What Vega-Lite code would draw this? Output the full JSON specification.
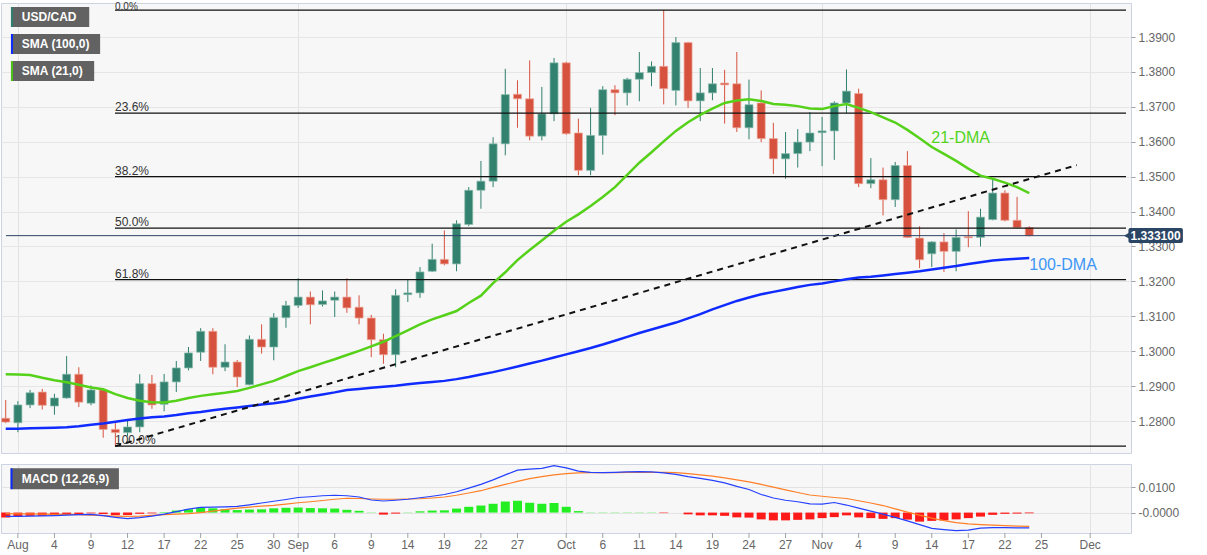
{
  "$schema": "https://vega.github.io/schema/vega-lite/v6.json",
  "padding": {"left": 0, "top": 1, "right": 0, "bottom": 0},
  "background": "white",
  "spacing": 9,
  "config": {
    "font": "Liberation Sans",
    "view": {"fill": "#f7f7f7", "stroke": "#ccd3e3", "strokeWidth": 1},
    "axis": {"labelFont": "Liberation Sans", "labelFontSize": 12, "labelColor": "#666666", "tickColor": "#a0a0a0", "gridColor": "#e6e6e6", "domain": false},
    "axisX": {"labelOverlap": false, "labelSeparation": 0, "labelFlush": false}
  },
  "datasets": {
    "one": [{}],
    "d": [
      {"i": -1, "o": 1.2808, "h": 1.2860, "l": 1.2794, "c": 1.2797, "s21": 1.2934, "s100": 1.2778, "m": -0.0015, "s": -0.0004, "hh": -0.0020},
      {"i": 0, "o": 1.2795, "h": 1.2857, "l": 1.2768, "c": 1.2846, "s21": 1.2933, "s100": 1.2778, "m": -0.0015, "s": -0.0005, "hh": -0.0017},
      {"i": 1, "o": 1.2846, "h": 1.2889, "l": 1.2837, "c": 1.2881, "s21": 1.2932, "s100": 1.2779, "m": -0.0014, "s": -0.0005, "hh": -0.0013},
      {"i": 2, "o": 1.2883, "h": 1.2892, "l": 1.2833, "c": 1.2845, "s21": 1.2924, "s100": 1.2780, "m": -0.0013, "s": -0.0006, "hh": -0.0013},
      {"i": 3, "o": 1.2843, "h": 1.2878, "l": 1.2818, "c": 1.2866, "s21": 1.2917, "s100": 1.2781, "m": -0.0012, "s": -0.0007, "hh": -0.0010},
      {"i": 4, "o": 1.2866, "h": 1.2986, "l": 1.2864, "c": 1.2934, "s21": 1.2911, "s100": 1.2782, "m": -0.0010, "s": -0.0007, "hh": -0.0006},
      {"i": 5, "o": 1.2934, "h": 1.2954, "l": 1.2840, "c": 1.2854, "s21": 1.2904, "s100": 1.2785, "m": -0.0008, "s": -0.0008, "hh": -0.0006},
      {"i": 6, "o": 1.2851, "h": 1.2902, "l": 1.2845, "c": 1.2889, "s21": 1.2896, "s100": 1.2789, "m": -0.0007, "s": -0.0010, "hh": -0.0003},
      {"i": 7, "o": 1.2889, "h": 1.2892, "l": 1.2752, "c": 1.2776, "s21": 1.2891, "s100": 1.2793, "m": -0.0012, "s": -0.0012, "hh": -0.0006},
      {"i": 8, "o": 1.2776, "h": 1.2794, "l": 1.2728, "c": 1.2767, "s21": 1.2877, "s100": 1.2798, "m": -0.0019, "s": -0.0014, "hh": -0.0010},
      {"i": 9, "o": 1.2767, "h": 1.2805, "l": 1.2756, "c": 1.2783, "s21": 1.2866, "s100": 1.2803, "m": -0.0024, "s": -0.0015, "hh": -0.0010},
      {"i": 10, "o": 1.2783, "h": 1.2934, "l": 1.2768, "c": 1.2907, "s21": 1.2858, "s100": 1.2807, "m": -0.0020, "s": -0.0014, "hh": -0.0005},
      {"i": 11, "o": 1.2907, "h": 1.2932, "l": 1.2835, "c": 1.2846, "s21": 1.2854, "s100": 1.2811, "m": -0.0014, "s": -0.0011, "hh": -0.0003},
      {"i": 12, "o": 1.2848, "h": 1.2935, "l": 1.2828, "c": 1.2912, "s21": 1.2853, "s100": 1.2813, "m": -0.0006, "s": -0.0008, "hh": 0.0002},
      {"i": 13, "o": 1.2912, "h": 1.2972, "l": 1.2883, "c": 1.2952, "s21": 1.2858, "s100": 1.2817, "m": 0.0004, "s": -0.0006, "hh": 0.0008},
      {"i": 14, "o": 1.2952, "h": 1.3012, "l": 1.2945, "c": 1.2995, "s21": 1.2866, "s100": 1.2822, "m": 0.0014, "s": -0.0004, "hh": 0.0013},
      {"i": 15, "o": 1.2997, "h": 1.3066, "l": 1.2972, "c": 1.3057, "s21": 1.2872, "s100": 1.2826, "m": 0.0021, "s": 0.0000, "hh": 0.0019},
      {"i": 16, "o": 1.3057, "h": 1.3066, "l": 1.2934, "c": 1.2954, "s21": 1.2877, "s100": 1.2831, "m": 0.0022, "s": 0.0006, "hh": 0.0017},
      {"i": 17, "o": 1.2954, "h": 1.3020, "l": 1.2943, "c": 1.2969, "s21": 1.2881, "s100": 1.2835, "m": 0.0023, "s": 0.0012, "hh": 0.0013},
      {"i": 18, "o": 1.2969, "h": 1.2975, "l": 1.2897, "c": 1.2926, "s21": 1.2886, "s100": 1.2839, "m": 0.0025, "s": 0.0018, "hh": 0.0010},
      {"i": 19, "o": 1.2904, "h": 1.3045, "l": 1.2902, "c": 1.3034, "s21": 1.2895, "s100": 1.2843, "m": 0.0031, "s": 0.0022, "hh": 0.0012},
      {"i": 20, "o": 1.3034, "h": 1.3077, "l": 1.2993, "c": 1.3012, "s21": 1.2905, "s100": 1.2847, "m": 0.0038, "s": 0.0026, "hh": 0.0013},
      {"i": 21, "o": 1.3012, "h": 1.3109, "l": 1.2974, "c": 1.3096, "s21": 1.2915, "s100": 1.2851, "m": 0.0045, "s": 0.0029, "hh": 0.0017},
      {"i": 22, "o": 1.3096, "h": 1.3144, "l": 1.3067, "c": 1.3131, "s21": 1.2929, "s100": 1.2856, "m": 0.0052, "s": 0.0034, "hh": 0.0019},
      {"i": 23, "o": 1.3131, "h": 1.3209, "l": 1.3124, "c": 1.3155, "s21": 1.2943, "s100": 1.2864, "m": 0.0060, "s": 0.0039, "hh": 0.0020},
      {"i": 24, "o": 1.3155, "h": 1.3171, "l": 1.3077, "c": 1.3133, "s21": 1.2954, "s100": 1.2870, "m": 0.0063, "s": 0.0043, "hh": 0.0018},
      {"i": 25, "o": 1.3134, "h": 1.3174, "l": 1.3128, "c": 1.3144, "s21": 1.2966, "s100": 1.2876, "m": 0.0067, "s": 0.0048, "hh": 0.0017},
      {"i": 26, "o": 1.3146, "h": 1.3171, "l": 1.3098, "c": 1.3155, "s21": 1.2977, "s100": 1.2882, "m": 0.0069, "s": 0.0053, "hh": 0.0016},
      {"i": 27, "o": 1.3155, "h": 1.3209, "l": 1.3110, "c": 1.3124, "s21": 1.2989, "s100": 1.2889, "m": 0.0067, "s": 0.0057, "hh": 0.0011},
      {"i": 28, "o": 1.3126, "h": 1.3160, "l": 1.3077, "c": 1.3095, "s21": 1.3001, "s100": 1.2892, "m": 0.0062, "s": 0.0056, "hh": 0.0007},
      {"i": 29, "o": 1.3095, "h": 1.3104, "l": 1.2983, "c": 1.3033, "s21": 1.3014, "s100": 1.2895, "m": 0.0050, "s": 0.0054, "hh": 0.0001},
      {"i": 30, "o": 1.3033, "h": 1.3050, "l": 1.2964, "c": 1.2990, "s21": 1.3027, "s100": 1.2898, "m": 0.0046, "s": 0.0053, "hh": -0.0008},
      {"i": 31, "o": 1.2990, "h": 1.3177, "l": 1.2954, "c": 1.3160, "s21": 1.3043, "s100": 1.2901, "m": 0.0049, "s": 0.0053, "hh": -0.0004},
      {"i": 32, "o": 1.3162, "h": 1.3205, "l": 1.3141, "c": 1.3167, "s21": 1.3060, "s100": 1.2905, "m": 0.0053, "s": 0.0054, "hh": 0.0001},
      {"i": 33, "o": 1.3167, "h": 1.3241, "l": 1.3153, "c": 1.3227, "s21": 1.3077, "s100": 1.2909, "m": 0.0059, "s": 0.0055, "hh": 0.0005},
      {"i": 34, "o": 1.3229, "h": 1.3308, "l": 1.3227, "c": 1.3263, "s21": 1.3091, "s100": 1.2912, "m": 0.0065, "s": 0.0058, "hh": 0.0008},
      {"i": 35, "o": 1.3263, "h": 1.3346, "l": 1.3246, "c": 1.3250, "s21": 1.3103, "s100": 1.2915, "m": 0.0072, "s": 0.0062, "hh": 0.0009},
      {"i": 36, "o": 1.3250, "h": 1.3375, "l": 1.3229, "c": 1.3365, "s21": 1.3115, "s100": 1.2920, "m": 0.0083, "s": 0.0069, "hh": 0.0016},
      {"i": 37, "o": 1.3363, "h": 1.3470, "l": 1.3358, "c": 1.3461, "s21": 1.3138, "s100": 1.2926, "m": 0.0097, "s": 0.0078, "hh": 0.0023},
      {"i": 38, "o": 1.3461, "h": 1.3545, "l": 1.3408, "c": 1.3487, "s21": 1.3159, "s100": 1.2933, "m": 0.0112, "s": 0.0087, "hh": 0.0028},
      {"i": 39, "o": 1.3487, "h": 1.3613, "l": 1.3470, "c": 1.3594, "s21": 1.3195, "s100": 1.2940, "m": 0.0130, "s": 0.0100, "hh": 0.0035},
      {"i": 40, "o": 1.3594, "h": 1.3809, "l": 1.3561, "c": 1.3735, "s21": 1.3226, "s100": 1.2948, "m": 0.0150, "s": 0.0112, "hh": 0.0044},
      {"i": 41, "o": 1.3736, "h": 1.3776, "l": 1.3640, "c": 1.3723, "s21": 1.3261, "s100": 1.2956, "m": 0.0169, "s": 0.0124, "hh": 0.0047},
      {"i": 42, "o": 1.3723, "h": 1.3833, "l": 1.3604, "c": 1.3616, "s21": 1.3290, "s100": 1.2965, "m": 0.0173, "s": 0.0135, "hh": 0.0039},
      {"i": 43, "o": 1.3616, "h": 1.3757, "l": 1.3604, "c": 1.3680, "s21": 1.3317, "s100": 1.2973, "m": 0.0176, "s": 0.0143, "hh": 0.0035},
      {"i": 44, "o": 1.3680, "h": 1.3840, "l": 1.3659, "c": 1.3826, "s21": 1.3345, "s100": 1.2982, "m": 0.0187, "s": 0.0150, "hh": 0.0038},
      {"i": 45, "o": 1.3826, "h": 1.3829, "l": 1.3620, "c": 1.3623, "s21": 1.3371, "s100": 1.2991, "m": 0.0178, "s": 0.0155, "hh": 0.0023},
      {"i": 46, "o": 1.3625, "h": 1.3666, "l": 1.3504, "c": 1.3518, "s21": 1.3392, "s100": 1.3000, "m": 0.0165, "s": 0.0158, "hh": 0.0006},
      {"i": 47, "o": 1.3518, "h": 1.3697, "l": 1.3504, "c": 1.3618, "s21": 1.3416, "s100": 1.3009, "m": 0.0160, "s": 0.0159, "hh": 0.0001},
      {"i": 48, "o": 1.3618, "h": 1.3759, "l": 1.3563, "c": 1.3749, "s21": 1.3442, "s100": 1.3019, "m": 0.0159, "s": 0.0159, "hh": 0.0001},
      {"i": 49, "o": 1.3749, "h": 1.3762, "l": 1.3676, "c": 1.3740, "s21": 1.3470, "s100": 1.3030, "m": 0.0160, "s": 0.0159, "hh": 0.0001},
      {"i": 50, "o": 1.3740, "h": 1.3783, "l": 1.3704, "c": 1.3779, "s21": 1.3505, "s100": 1.3041, "m": 0.0162, "s": 0.0160, "hh": 0.0001},
      {"i": 51, "o": 1.3779, "h": 1.3857, "l": 1.3716, "c": 1.3798, "s21": 1.3540, "s100": 1.3052, "m": 0.0163, "s": 0.0160, "hh": 0.0001},
      {"i": 52, "o": 1.3798, "h": 1.3830, "l": 1.3759, "c": 1.3816, "s21": 1.3570, "s100": 1.3062, "m": 0.0162, "s": 0.0160, "hh": 0.0001},
      {"i": 53, "o": 1.3816, "h": 1.3977, "l": 1.3707, "c": 1.3752, "s21": 1.3601, "s100": 1.3072, "m": 0.0158, "s": 0.0160, "hh": -0.0002},
      {"i": 54, "o": 1.3747, "h": 1.3900, "l": 1.3704, "c": 1.3884, "s21": 1.3631, "s100": 1.3082, "m": 0.0152, "s": 0.0159, "hh": 0.0000},
      {"i": 55, "o": 1.3884, "h": 1.3886, "l": 1.3697, "c": 1.3717, "s21": 1.3656, "s100": 1.3094, "m": 0.0143, "s": 0.0155, "hh": -0.0007},
      {"i": 56, "o": 1.3717, "h": 1.3811, "l": 1.3659, "c": 1.3740, "s21": 1.3677, "s100": 1.3106, "m": 0.0136, "s": 0.0150, "hh": -0.0011},
      {"i": 57, "o": 1.3740, "h": 1.3811, "l": 1.3719, "c": 1.3766, "s21": 1.3695, "s100": 1.3120, "m": 0.0128, "s": 0.0145, "hh": -0.0011},
      {"i": 58, "o": 1.3768, "h": 1.3806, "l": 1.3652, "c": 1.3763, "s21": 1.3711, "s100": 1.3132, "m": 0.0118, "s": 0.0138, "hh": -0.0013},
      {"i": 59, "o": 1.3766, "h": 1.3857, "l": 1.3628, "c": 1.3640, "s21": 1.3718, "s100": 1.3144, "m": 0.0104, "s": 0.0130, "hh": -0.0019},
      {"i": 60, "o": 1.3640, "h": 1.3778, "l": 1.3607, "c": 1.3706, "s21": 1.3722, "s100": 1.3154, "m": 0.0092, "s": 0.0122, "hh": -0.0020},
      {"i": 61, "o": 1.3711, "h": 1.3747, "l": 1.3599, "c": 1.3609, "s21": 1.3717, "s100": 1.3163, "m": 0.0072, "s": 0.0112, "hh": -0.0027},
      {"i": 62, "o": 1.3609, "h": 1.3654, "l": 1.3508, "c": 1.3551, "s21": 1.3708, "s100": 1.3170, "m": 0.0058, "s": 0.0101, "hh": -0.0031},
      {"i": 63, "o": 1.3551, "h": 1.3628, "l": 1.3494, "c": 1.3566, "s21": 1.3706, "s100": 1.3177, "m": 0.0049, "s": 0.0090, "hh": -0.0031},
      {"i": 64, "o": 1.3566, "h": 1.3636, "l": 1.3526, "c": 1.3599, "s21": 1.3702, "s100": 1.3184, "m": 0.0043, "s": 0.0080, "hh": -0.0029},
      {"i": 65, "o": 1.3599, "h": 1.3685, "l": 1.3573, "c": 1.3625, "s21": 1.3695, "s100": 1.3190, "m": 0.0035, "s": 0.0070, "hh": -0.0027},
      {"i": 66, "o": 1.3626, "h": 1.3671, "l": 1.3530, "c": 1.3631, "s21": 1.3694, "s100": 1.3194, "m": 0.0034, "s": 0.0065, "hh": -0.0022},
      {"i": 67, "o": 1.3631, "h": 1.3716, "l": 1.3548, "c": 1.3711, "s21": 1.3702, "s100": 1.3200, "m": 0.0040, "s": 0.0060, "hh": -0.0018},
      {"i": 68, "o": 1.3711, "h": 1.3807, "l": 1.3682, "c": 1.3745, "s21": 1.3708, "s100": 1.3206, "m": 0.0030, "s": 0.0056, "hh": -0.0011},
      {"i": 69, "o": 1.3738, "h": 1.3752, "l": 1.3470, "c": 1.3480, "s21": 1.3697, "s100": 1.3211, "m": 0.0018, "s": 0.0047, "hh": -0.0019},
      {"i": 70, "o": 1.3480, "h": 1.3553, "l": 1.3467, "c": 1.3491, "s21": 1.3685, "s100": 1.3213, "m": 0.0006, "s": 0.0038, "hh": -0.0022},
      {"i": 71, "o": 1.3491, "h": 1.3526, "l": 1.3389, "c": 1.3434, "s21": 1.3670, "s100": 1.3217, "m": -0.0006, "s": 0.0028, "hh": -0.0025},
      {"i": 72, "o": 1.3434, "h": 1.3542, "l": 1.3413, "c": 1.3532, "s21": 1.3655, "s100": 1.3221, "m": -0.0019, "s": 0.0015, "hh": -0.0022},
      {"i": 73, "o": 1.3532, "h": 1.3573, "l": 1.3324, "c": 1.3326, "s21": 1.3634, "s100": 1.3225, "m": -0.0033, "s": 0.0002, "hh": -0.0028},
      {"i": 74, "o": 1.3324, "h": 1.3358, "l": 1.3238, "c": 1.3262, "s21": 1.3610, "s100": 1.3229, "m": -0.0048, "s": -0.0010, "hh": -0.0036},
      {"i": 75, "o": 1.3279, "h": 1.3315, "l": 1.3241, "c": 1.3313, "s21": 1.3585, "s100": 1.3234, "m": -0.0063, "s": -0.0022, "hh": -0.0033},
      {"i": 76, "o": 1.3313, "h": 1.3338, "l": 1.3227, "c": 1.3286, "s21": 1.3565, "s100": 1.3239, "m": -0.0068, "s": -0.0032, "hh": -0.0031},
      {"i": 77, "o": 1.3286, "h": 1.3349, "l": 1.3229, "c": 1.3326, "s21": 1.3545, "s100": 1.3244, "m": -0.0072, "s": -0.0040, "hh": -0.0027},
      {"i": 78, "o": 1.3328, "h": 1.3401, "l": 1.3298, "c": 1.3325, "s21": 1.3523, "s100": 1.3250, "m": -0.0070, "s": -0.0045, "hh": -0.0022},
      {"i": 79, "o": 1.3326, "h": 1.3408, "l": 1.3300, "c": 1.3384, "s21": 1.3503, "s100": 1.3255, "m": -0.0062, "s": -0.0048, "hh": -0.0016},
      {"i": 80, "o": 1.3377, "h": 1.3494, "l": 1.3375, "c": 1.3453, "s21": 1.3494, "s100": 1.3260, "m": -0.0060, "s": -0.0050, "hh": -0.0009},
      {"i": 81, "o": 1.3453, "h": 1.3461, "l": 1.3372, "c": 1.3375, "s21": 1.3483, "s100": 1.3263, "m": -0.0060, "s": -0.0052, "hh": -0.0005},
      {"i": 82, "o": 1.3375, "h": 1.3442, "l": 1.3351, "c": 1.3354, "s21": 1.3470, "s100": 1.3265, "m": -0.0061, "s": -0.0054, "hh": -0.0004},
      {"i": 83, "o": 1.3354, "h": 1.3358, "l": 1.3329, "c": 1.3331, "s21": 1.3453, "s100": 1.3267, "m": -0.0061, "s": -0.0055, "hh": -0.0003}
    ],
    "fib": [
      {"lab": "23.6%", "p": 1.36822},
      {"lab": "38.2%", "p": 1.35},
      {"lab": "50.0%", "p": 1.33525},
      {"lab": "61.8%", "p": 1.32051},
      {"lab": "100.0%", "p": 1.2728}
    ],
    "fibtop": [
      {"lab": "0.0%", "p": 1.3977}
    ],
    "trend": [
      {"i": 8, "p": 1.2728},
      {"i": 86.9, "p": 1.3533}
    ],
    "xt": [
      {"i": 0, "lab": "Aug"}, {"i": 3, "lab": "4"}, {"i": 6, "lab": "9"}, {"i": 9, "lab": "12"}, {"i": 12, "lab": "17"},
      {"i": 15, "lab": "22"}, {"i": 18, "lab": "25"}, {"i": 21, "lab": "30"}, {"i": 23, "lab": "Sep"}, {"i": 26, "lab": "6"},
      {"i": 29, "lab": "9"}, {"i": 32, "lab": "14"}, {"i": 35, "lab": "19"}, {"i": 38, "lab": "22"}, {"i": 41, "lab": "27"},
      {"i": 45, "lab": "Oct"}, {"i": 48, "lab": "6"}, {"i": 51, "lab": "11"}, {"i": 54, "lab": "14"}, {"i": 57, "lab": "19"},
      {"i": 60, "lab": "24"}, {"i": 63, "lab": "27"}, {"i": 66, "lab": "Nov"}, {"i": 69, "lab": "4"}, {"i": 72, "lab": "9"},
      {"i": 75, "lab": "14"}, {"i": 78, "lab": "17"}, {"i": 81, "lab": "22"}, {"i": 84, "lab": "25"}, {"i": 88, "lab": "Dec"}
    ]
  },
  "vconcat": [
    {
      "width": 1130,
      "height": 450,
      "layer": [
        {
          "data": {"name": "d"},
          "mark": {"type": "rule", "clip": true, "strokeWidth": 1},
          "encoding": {
            "x": {"field": "i", "type": "quantitative", "scale": {"domain": [-0.976, 90.94], "nice": false, "zero": false},
                  "axis": {"title": null, "labels": false, "ticks": false, "domain": false, "values": [0, 23, 45, 66, 88], "gridColor": "#e3e3e3"}},
            "y": {"field": "l", "type": "quantitative", "scale": {"domain": [1.27084, 1.39974], "nice": false, "zero": false},
                  "axis": {"title": null, "orient": "right", "values": [1.28, 1.29, 1.3, 1.31, 1.32, 1.33, 1.34, 1.35, 1.36, 1.37, 1.38, 1.39], "format": ".4f", "tickSize": 4, "labelPadding": 3, "gridColor": "#e6e6e6"}},
            "y2": {"field": "h"},
            "color": {"condition": {"test": "datum.c >= datum.o", "value": "#2f7f6c"}, "value": "#d6523e"}
          }
        },
        {
          "data": {"name": "d"},
          "mark": {"type": "bar", "clip": true, "size": 8, "strokeWidth": 1, "strokeOpacity": 0.7},
          "encoding": {
            "x": {"field": "i", "type": "quantitative"},
            "y": {"field": "o", "type": "quantitative"},
            "y2": {"field": "c"},
            "fill": {"condition": {"test": "datum.c >= datum.o", "value": "#33826f"}, "value": "#d6523e"},
            "stroke": {"condition": {"test": "datum.c >= datum.o", "value": "#8abcae"}, "value": "#eea597"}
          }
        },
        {
          "data": {"name": "fib"},
          "mark": {"type": "rule", "color": "#111111", "strokeWidth": 1.3},
          "encoding": {
            "x": {"datum": 7.97, "type": "quantitative"},
            "x2": {"datum": 90.94},
            "y": {"field": "p", "type": "quantitative"}
          }
        },
        {
          "data": {"name": "fibtop"},
          "mark": {"type": "rule", "color": "#111111", "strokeWidth": 1.3},
          "encoding": {
            "x": {"datum": 7.97, "type": "quantitative"},
            "x2": {"datum": 90.94},
            "y": {"field": "p", "type": "quantitative"}
          }
        },
        {
          "data": {"name": "fib"},
          "mark": {"type": "text", "clip": true, "align": "left", "baseline": "alphabetic", "dy": -2, "fontSize": 12, "color": "#333333"},
          "encoding": {
            "x": {"datum": 7.97, "type": "quantitative"},
            "y": {"field": "p", "type": "quantitative"},
            "text": {"field": "lab"}
          }
        },
        {
          "data": {"name": "fibtop"},
          "mark": {"type": "text", "align": "left", "baseline": "alphabetic", "dy": 0, "fontSize": 10, "color": "#333333"},
          "encoding": {
            "x": {"datum": 7.97, "type": "quantitative"},
            "y": {"field": "p", "type": "quantitative"},
            "text": {"field": "lab"}
          }
        },
        {
          "data": {"name": "d"},
          "mark": {"type": "line", "clip": true, "color": "#0f2bff", "strokeWidth": 2.5},
          "encoding": {
            "x": {"field": "i", "type": "quantitative"},
            "y": {"field": "s100", "type": "quantitative"}
          }
        },
        {
          "data": {"name": "d"},
          "mark": {"type": "line", "clip": true, "color": "#55d11a", "strokeWidth": 2.5},
          "encoding": {
            "x": {"field": "i", "type": "quantitative"},
            "y": {"field": "s21", "type": "quantitative"}
          }
        },
        {
          "data": {"name": "trend"},
          "mark": {"type": "line", "clip": true, "color": "#111111", "strokeWidth": 2, "strokeDash": [6, 5]},
          "encoding": {
            "x": {"field": "i", "type": "quantitative"},
            "y": {"field": "p", "type": "quantitative"}
          }
        },
        {
          "data": {"name": "one"},
          "mark": {"type": "rule", "color": "#2c4263", "strokeWidth": 1},
          "encoding": {
            "x": {"datum": -0.976, "type": "quantitative"},
            "x2": {"datum": 90.94},
            "y": {"datum": 1.3331, "type": "quantitative"}
          }
        },
        {
          "data": {"name": "one"},
          "mark": {"type": "rect", "color": "#2b4565", "cornerRadius": 2},
          "encoding": {
            "x": {"datum": 91.14, "type": "quantitative"},
            "x2": {"datum": 95.61},
            "y": {"datum": 1.33529, "type": "quantitative"},
            "y2": {"datum": 1.33099}
          }
        },
        {
          "data": {"name": "one"},
          "mark": {"type": "point", "shape": "triangle-left", "filled": true, "color": "#2b4565", "opacity": 1, "size": 40},
          "encoding": {
            "x": {"datum": 91.0, "type": "quantitative"},
            "y": {"datum": 1.3331, "type": "quantitative"}
          }
        },
        {
          "data": {"name": "one"},
          "mark": {"type": "text", "color": "white", "fontWeight": "bold", "fontSize": 12, "align": "center", "baseline": "middle"},
          "encoding": {
            "x": {"datum": 93.37, "type": "quantitative"},
            "y": {"datum": 1.3331, "type": "quantitative"},
            "text": {"value": "1.333100"}
          }
        },
        {
          "data": {"name": "one"},
          "mark": {"type": "text", "color": "#53d41c", "fontSize": 16, "align": "left", "baseline": "middle"},
          "encoding": {
            "x": {"datum": 74.96, "type": "quantitative"},
            "y": {"datum": 1.36107, "type": "quantitative"},
            "text": {"value": "21-DMA"}
          }
        },
        {
          "data": {"name": "one"},
          "mark": {"type": "text", "color": "#3d96f5", "fontSize": 16, "align": "left", "baseline": "middle"},
          "encoding": {
            "x": {"datum": 83.0, "type": "quantitative"},
            "y": {"datum": 1.32483, "type": "quantitative"},
            "text": {"value": "100-DMA"}
          }
        },
        {
          "data": {"name": "one"},
          "mark": {"type": "rect", "color": "#5a5a5a", "opacity": 0.95},
          "encoding": {
            "x": {"datum": -0.569, "type": "quantitative"},
            "x2": {"datum": 5.854},
            "y": {"datum": 1.39859, "type": "quantitative"},
            "y2": {"datum": 1.39286}
          }
        },
        {
          "data": {"name": "one"},
          "mark": {"type": "rect", "color": "#2b8070"},
          "encoding": {
            "x": {"datum": -0.569, "type": "quantitative"},
            "x2": {"datum": -0.407},
            "y": {"datum": 1.39859, "type": "quantitative"},
            "y2": {"datum": 1.39286}
          }
        },
        {
          "data": {"name": "one"},
          "mark": {"type": "text", "color": "white", "fontWeight": "bold", "fontSize": 12, "align": "left", "baseline": "middle"},
          "encoding": {
            "x": {"datum": 0.325, "type": "quantitative"},
            "y": {"datum": 1.39573, "type": "quantitative"},
            "text": {"value": "USD/CAD"}
          }
        },
        {
          "data": {"name": "one"},
          "mark": {"type": "rect", "color": "#5a5a5a", "opacity": 0.95},
          "encoding": {
            "x": {"datum": -0.569, "type": "quantitative"},
            "x2": {"datum": 6.748},
            "y": {"datum": 1.39086, "type": "quantitative"},
            "y2": {"datum": 1.38513}
          }
        },
        {
          "data": {"name": "one"},
          "mark": {"type": "rect", "color": "#0b2bff"},
          "encoding": {
            "x": {"datum": -0.569, "type": "quantitative"},
            "x2": {"datum": -0.407},
            "y": {"datum": 1.39086, "type": "quantitative"},
            "y2": {"datum": 1.38513}
          }
        },
        {
          "data": {"name": "one"},
          "mark": {"type": "text", "color": "white", "fontWeight": "bold", "fontSize": 12, "align": "left", "baseline": "middle"},
          "encoding": {
            "x": {"datum": 0.325, "type": "quantitative"},
            "y": {"datum": 1.388, "type": "quantitative"},
            "text": {"value": "SMA (100,0)"}
          }
        },
        {
          "data": {"name": "one"},
          "mark": {"type": "rect", "color": "#5a5a5a", "opacity": 0.95},
          "encoding": {
            "x": {"datum": -0.569, "type": "quantitative"},
            "x2": {"datum": 6.26},
            "y": {"datum": 1.38313, "type": "quantitative"},
            "y2": {"datum": 1.3774}
          }
        },
        {
          "data": {"name": "one"},
          "mark": {"type": "rect", "color": "#4cc417"},
          "encoding": {
            "x": {"datum": -0.569, "type": "quantitative"},
            "x2": {"datum": -0.407},
            "y": {"datum": 1.38313, "type": "quantitative"},
            "y2": {"datum": 1.3774}
          }
        },
        {
          "data": {"name": "one"},
          "mark": {"type": "text", "color": "white", "fontWeight": "bold", "fontSize": 12, "align": "left", "baseline": "middle"},
          "encoding": {
            "x": {"datum": 0.325, "type": "quantitative"},
            "y": {"datum": 1.38026, "type": "quantitative"},
            "text": {"value": "SMA (21,0)"}
          }
        }
      ]
    },
    {
      "width": 1130,
      "height": 69,
      "layer": [
        {
          "data": {"name": "d"},
          "mark": {"type": "bar", "clip": true, "size": 9},
          "encoding": {
            "x": {"field": "i", "type": "quantitative", "scale": {"domain": [-0.976, 90.94], "nice": false, "zero": false},
                  "axis": {"title": null, "domain": false, "ticks": false, "labels": false, "values": [0, 23, 45, 66, 88], "gridColor": "#e3e3e3"}},
            "y": {"field": "hh", "type": "quantitative", "scale": {"domain": [-0.00812, 0.01932], "nice": false, "zero": false},
                  "axis": {"title": null, "orient": "right", "values": [0, 0.01], "tickSize": 4, "labelPadding": 3,
                           "labelExpr": "datum.value == 0 ? '-0.0000' : format(datum.value, '.4f')", "gridColor": "#e3e3e3"}},
            "y2": {"datum": 0},
            "color": {"condition": {"test": "datum.hh >= 0", "value": "#22ee22"}, "value": "#ff1a1a"}
          }
        },
        {
          "data": {"name": "d"},
          "mark": {"type": "line", "clip": true, "color": "#ff7f27", "strokeWidth": 1.2},
          "encoding": {
            "x": {"field": "i", "type": "quantitative"},
            "y": {"field": "s", "type": "quantitative"}
          }
        },
        {
          "data": {"name": "d"},
          "mark": {"type": "line", "clip": true, "color": "#2541ff", "strokeWidth": 1.2},
          "encoding": {
            "x": {"field": "i", "type": "quantitative"},
            "y": {"field": "m", "type": "quantitative"}
          }
        },
        {
          "data": {"name": "xt"},
          "mark": {"type": "rule", "color": "#a0a0a0", "strokeWidth": 1},
          "encoding": {
            "x": {"field": "i", "type": "quantitative"},
            "y": {"datum": -0.00812, "type": "quantitative"},
            "y2": {"datum": -0.01012}
          }
        },
        {
          "data": {"name": "xt"},
          "mark": {"type": "text", "color": "#666666", "fontSize": 12, "align": "center", "baseline": "top", "dy": 2},
          "encoding": {
            "x": {"field": "i", "type": "quantitative"},
            "y": {"datum": -0.01012, "type": "quantitative"},
            "text": {"field": "lab"}
          }
        },
        {
          "data": {"name": "one"},
          "mark": {"type": "rect", "color": "#5a5a5a", "opacity": 0.95},
          "encoding": {
            "x": {"datum": -0.6, "type": "quantitative"},
            "x2": {"datum": 8.29},
            "y": {"datum": 0.0176, "type": "quantitative"},
            "y2": {"datum": 0.0093}
          }
        },
        {
          "data": {"name": "one"},
          "mark": {"type": "rect", "color": "#0b2bff"},
          "encoding": {
            "x": {"datum": -0.6, "type": "quantitative"},
            "x2": {"datum": -0.44},
            "y": {"datum": 0.0176, "type": "quantitative"},
            "y2": {"datum": 0.0093}
          }
        },
        {
          "data": {"name": "one"},
          "mark": {"type": "text", "color": "white", "fontWeight": "bold", "fontSize": 12, "align": "left", "baseline": "middle"},
          "encoding": {
            "x": {"datum": 0.325, "type": "quantitative"},
            "y": {"datum": 0.01345, "type": "quantitative"},
            "text": {"value": "MACD (12,26,9)"}
          }
        }
      ]
    }
  ]
}
